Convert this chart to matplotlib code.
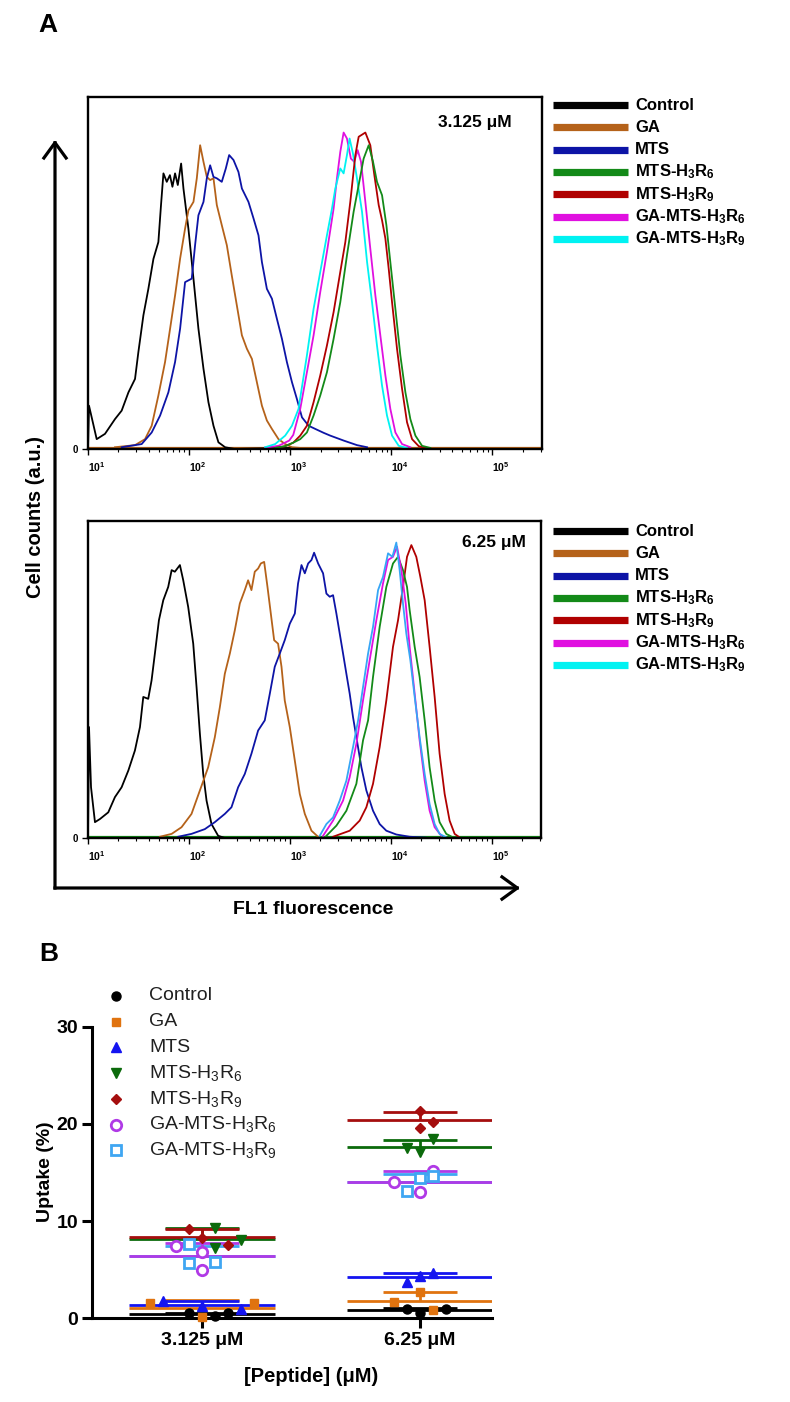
import numpy as np
import matplotlib.pyplot as plt
from matplotlib.lines import Line2D
from matplotlib.patches import FancyArrowPatch
from matplotlib.ticker import FixedLocator, LogLocator, NullFormatter

plt.rcParams.update({'font.family': ['Liberation Sans', 'DejaVu Sans'],
                     'mathtext.fontset': 'custom',
                     'mathtext.rm': 'Liberation Sans',
                     'mathtext.bf': 'Liberation Sans:bold',
                     'mathtext.it': 'Liberation Sans:italic',
                     'mathtext.default': 'regular'})

W, H = 790, 1402

# ---------------- data: panel A, histograms (log10 of FL1, counts in % of max) ----------------
top_logx_control = [1.0, 1.01, 1.086, 1.168, 1.267, 1.333, 1.40, 1.465, 1.498, 1.548, 1.597, 1.647, 1.696,
                    1.722, 1.746, 1.779, 1.81, 1.835, 1.861, 1.888, 1.921, 1.944, 1.993, 2.043, 2.092, 2.142,
                    2.191, 2.241, 2.29, 2.356, 2.45, 3.0, 3.1]
top_y_control = [0, 12.3, 2.8, 4.3, 8.5, 10.9, 16.1, 19.9, 27.5, 38, 45.5, 54, 58.8, 69.3, 78.3, 75.9, 77.8,
                 74.5, 78.3, 75, 81.1, 74, 62.6, 48.4, 34.2, 22.8, 13.3, 6.6, 1.9, 0.5, 0, 0.3, 0]
top_logx_ga = [1.267, 1.465, 1.564, 1.63, 1.696, 1.762, 1.812, 1.861, 1.911, 1.96, 1.993, 2.043, 2.076, 2.109,
               2.142, 2.175, 2.208, 2.241, 2.274, 2.323, 2.373, 2.422, 2.472, 2.522, 2.571, 2.621, 2.67, 2.72,
               2.769, 2.819, 2.884, 2.95, 3.017, 3.1]
top_y_ga = [0.5, 1.1, 2.8, 6.6, 15.2, 24.7, 34.2, 43.6, 54.1, 62.6, 67.8, 70.2, 76.9, 86.3, 81.6, 77.3, 76.4,
            76.9, 69.3, 63.6, 57.9, 49.3, 40.8, 32.3, 28.5, 25.6, 19, 12.3, 8.1, 5.7, 2.8, 1.4, 0.5, 0.3]
top_logx_mts = [1.333, 1.531, 1.63, 1.713, 1.795, 1.861, 1.911, 1.96, 2.026, 2.059, 2.092, 2.142, 2.175,
                2.208, 2.241, 2.274, 2.323, 2.363, 2.396, 2.439, 2.488, 2.522, 2.587, 2.637, 2.686, 2.72,
                2.769, 2.819, 2.868, 2.918, 2.967, 3.017, 3.066, 3.116, 3.182, 3.248, 3.33, 3.396, 3.528,
                3.66, 3.76]
top_y_mts = [0.5, 1.4, 4.7, 9.5, 16.1, 24.7, 34.2, 47.4, 48.4, 57.9, 66.4, 70.2, 76.9, 80.6, 77.3, 76.9,
             75.9, 79.7, 83.5, 82.1, 78.7, 74, 70.2, 65.5, 60.7, 53.1, 45.5, 42.7, 37, 31.3, 24.7, 19, 14.2,
             9, 6.6, 5.7, 4.6, 3.8, 2.4, 1.1, 0.5]
top_logx_h3r6 = [2.85, 2.95, 3.03, 3.099, 3.165, 3.231, 3.297, 3.363, 3.429, 3.495, 3.561, 3.627, 3.677,
                 3.726, 3.776, 3.819, 3.858, 3.908, 3.951, 3.99, 4.04, 4.089, 4.139, 4.188, 4.238, 4.304,
                 4.386]
top_y_h3r6 = [0.3, 0.8, 1.8, 2.8, 4.7, 9.5, 15.2, 21.8, 31.3, 41.7, 55, 67.4, 75, 82.5, 86.3, 81.6, 75.9,
              72.1, 63.6, 53.1, 39.8, 26.6, 16.1, 8.5, 3.8, 0.9, 0.3]
top_logx_h3r9 = [2.85, 2.95, 3.03, 3.099, 3.165, 3.231, 3.297, 3.363, 3.429, 3.495, 3.545, 3.594, 3.644,
                 3.677, 3.743, 3.792, 3.832, 3.875, 3.908, 3.941, 3.974, 4.007, 4.056, 4.106, 4.155, 4.205,
                 4.271, 4.35]
top_y_h3r9 = [0.3, 0.8, 1.8, 3.8, 6.6, 13.3, 20.9, 29.4, 38.9, 50.3, 58.8, 70.2, 83.5, 88.7, 89.9, 86.3,
              77.8, 69.3, 65, 59.8, 51.2, 41.7, 28.5, 17.1, 7.6, 2.8, 0.8, 0.2]
top_logx_ga_h3r6 = [2.752, 2.884, 2.99, 3.03, 3.099, 3.165, 3.231, 3.297, 3.363, 3.429, 3.462, 3.495, 3.528,
                    3.561, 3.6, 3.633, 3.667, 3.7, 3.743, 3.792, 3.842, 3.891, 3.941, 3.99, 4.04, 4.106,
                    4.188]
top_y_ga_h3r6 = [0.4, 0.9, 2.4, 4.0, 11.4, 21.8, 32.3, 44.6, 56, 68.3, 76.9, 84.4, 89.9, 88.2, 82.5, 81.6,
                 84.9, 81.6, 70.2, 56.9, 43.6, 32.3, 20.9, 11.4, 4.7, 1.4, 0.5]
top_logx_ga_h3r9 = [2.752, 2.851, 2.95, 3.017, 3.082, 3.165, 3.231, 3.297, 3.363, 3.413, 3.446, 3.495,
                    3.528, 3.561, 3.587, 3.62, 3.66, 3.71, 3.76, 3.809, 3.858, 3.908, 3.957, 4.007, 4.073,
                    4.155]
top_y_ga_h3r9 = [0.5, 1.4, 3.8, 6.6, 11.4, 26.6, 39.8, 50.3, 60.7, 68.3, 74, 79.7, 78.3, 83.5, 88.2, 84,
                 76.9, 67.4, 53.1, 41.7, 29.4, 18, 9.5, 3.8, 0.9, 0.3]

bot_logx_control = [1.0, 1.01, 1.03, 1.069, 1.119, 1.201, 1.267, 1.333, 1.4, 1.465, 1.515, 1.548, 1.597,
                    1.63, 1.663, 1.703, 1.746, 1.795, 1.829, 1.861, 1.911, 1.944, 1.993, 2.043, 2.076, 2.109,
                    2.142, 2.175, 2.224, 2.29, 2.356]
bot_y_control = [0, 35, 16, 5, 6, 8.1, 12.9, 16, 21.3, 27.6, 35, 44.5, 43.9, 49.7, 58.2, 68.7, 75, 79.2,
                 84.5, 84, 86.1, 81.3, 72.9, 61.3, 47.6, 32.9, 20.2, 11.8, 4.4, 0.7, 0]
bot_logx_ga = [1.713, 1.829, 1.927, 2.026, 2.109, 2.191, 2.257, 2.307, 2.356, 2.406, 2.455, 2.505, 2.554,
               2.587, 2.62, 2.653, 2.686, 2.713, 2.746, 2.779, 2.812, 2.845, 2.884, 2.918, 2.95, 3.0, 3.05,
               3.099, 3.149, 3.215, 3.28]
bot_y_ga = [0.4, 1.3, 3.4, 7.6, 15, 22.3, 31.8, 41.3, 51.8, 58.2, 65.5, 74, 78.2, 81.3, 78.2, 84, 85, 86.6,
            87.1, 79.2, 70.8, 62.4, 61.3, 54, 43.4, 35, 24.4, 13.9, 7.6, 2.3, 0.4]
bot_logx_mts = [1.894, 2.026, 2.158, 2.257, 2.356, 2.422, 2.488, 2.554, 2.62, 2.686, 2.752, 2.802, 2.851,
                2.901, 2.95, 3.0, 3.05, 3.082, 3.116, 3.149, 3.182, 3.215, 3.241, 3.281, 3.33, 3.363, 3.396,
                3.429, 3.462, 3.495, 3.528, 3.561, 3.594, 3.627, 3.66, 3.71, 3.759, 3.825, 3.891, 3.957,
                4.056, 4.188, 4.35]
bot_y_mts = [0.4, 1.3, 2.8, 5, 7.6, 9.7, 16, 20.2, 26.6, 33.9, 37.1, 45.5, 54, 58.2, 62.4, 67.6, 70.8, 80.3,
             86.1, 83.5, 86.6, 87.7, 90, 86.6, 83.5, 77.1, 76.1, 76.6, 70.8, 64.5, 58.2, 51.8, 45.5, 38.1,
             31.8, 22.3, 15, 8.6, 4.4, 2.3, 1.1, 0.4, 0.1]
bot_logx_h3r6 = [3.363, 3.462, 3.561, 3.66, 3.726, 3.776, 3.825, 3.891, 3.957, 4.023, 4.073, 4.122, 4.162,
                 4.188, 4.238, 4.287, 4.337, 4.386, 4.436, 4.485, 4.551, 4.617]
bot_y_h3r6 = [0.7, 3.9, 8.6, 17.1, 30.8, 37.1, 50.8, 66.6, 79.2, 86.6, 88.7, 84.5, 79.2, 71.9, 60.3, 50.8,
              37.1, 22.3, 11.8, 5, 1.3, 0.2]
bot_logx_h3r9 = [3.429, 3.594, 3.693, 3.759, 3.825, 3.891, 3.957, 4.023, 4.073, 4.122, 4.162, 4.205, 4.254,
                 4.294, 4.337, 4.386, 4.436, 4.485, 4.535, 4.584, 4.634, 4.683]
bot_y_h3r9 = [0.4, 2.3, 5.5, 9.7, 17.1, 28.7, 43.4, 60.3, 68.7, 79.2, 88.7, 92.4, 88.7, 82.4, 75, 60.3, 44.5,
              26.6, 13.9, 5.5, 1.3, 0.2]
bot_logx_ga_h3r6 = [3.33, 3.429, 3.528, 3.594, 3.66, 3.726, 3.792, 3.858, 3.924, 3.974, 4.023, 4.063, 4.106,
                    4.149, 4.188, 4.238, 4.287, 4.337, 4.386, 4.436, 4.502]
bot_y_ga_h3r6 = [0.7, 5.5, 11.8, 19.2, 29.7, 43.4, 56.1, 68.7, 80.3, 87.7, 88.7, 91.9, 84.5, 74, 60.3, 45.5,
                 30.8, 18.1, 8.6, 3.4, 0.7]
bot_logx_ga_h3r9 = [3.297, 3.363, 3.429, 3.495, 3.561, 3.627, 3.677, 3.726, 3.776, 3.825, 3.875, 3.924,
                    3.974, 4.017, 4.056, 4.089, 4.122, 4.155, 4.195, 4.238, 4.287, 4.337, 4.386, 4.436,
                    4.485, 4.551]
bot_y_ga_h3r9 = [0.7, 4.4, 6.5, 11.8, 18.1, 28.7, 37.1, 47.6, 58.2, 66.6, 78.2, 82.4, 89.8, 88.7, 93.2, 84.5,
                 74, 64.5, 56.1, 44.5, 31.8, 20.2, 10.7, 4.4, 1.3, 0.2]

hist_labels = ['Control', 'GA', 'MTS', r'MTS-H$_\mathbf{3}$R$_\mathbf{6}$', r'MTS-H$_\mathbf{3}$R$_\mathbf{9}$',
               r'GA-MTS-H$_\mathbf{3}$R$_\mathbf{6}$', r'GA-MTS-H$_\mathbf{3}$R$_\mathbf{9}$']
hist_colors = ['#000000', '#B5621A', '#0D14A6', '#138A18', '#B00000', '#E010E0', '#00F2F2']
conc_labels = ['3.125 μM', '6.25 μM']

# ---------------- data: panel B, uptake (%) replicates ----------------
b_categories = ['3.125 μM', '6.25 μM']
b_labels = ['Control', 'GA', 'MTS', r'MTS-H$_3$R$_6$', r'MTS-H$_3$R$_9$', r'GA-MTS-H$_3$R$_6$',
            r'GA-MTS-H$_3$R$_9$']
uptake_control = [[0.5, 0.27, 0.5], [0.96, 0.5, 0.96]]
uptake_ga = [[1.54, 0.17, 1.54], [1.7, 2.74, 0.86]]
uptake_mts = [[1.75, 1.3, 0.95], [3.77, 4.35, 4.63]]
uptake_h3r6 = [[9.3, 7.2, 8.1], [17.5, 17.1, 18.4]]
uptake_h3r9 = [[9.2, 8.3, 7.5], [21.3, 20.2, 19.6]]
uptake_ga_h3r6 = [[7.44, 6.86, 4.97], [14.05, 13.0, 15.15]]
uptake_ga_h3r9 = [[5.7, 5.8, 7.6], [13.1, 14.4, 14.6]]
# horizontal scatter slot of each replicate (Prism column scatter)
slots_control = [[-1, 1, 2], [-1, 0, 2]]
slots_ga = [[-4, 0, 4], [-2, 0, 1]]
slots_mts = [[-3, 0, 3], [-1, 0, 1]]
slots_h3r6 = [[1, 1, 3], [-1, 0, 1]]
slots_h3r9 = [[-1, 0, 2], [0, 1, 0]]
slots_ga_h3r6 = [[-2, 0, 0], [-2, 0, 1]]
slots_ga_h3r9 = [[-1, 1, -1], [-1, 0, 1]]
b_colors = ['#000000', '#E0730F', '#1414F0', '#0B6A0B', '#A50E0E', '#B03AE6', '#3FA6F2']
b_markers = ['o', 's', '^', 'v', 'D', 'o', 's']
b_open = [False, False, False, False, False, True, True]


def fx(px):
    return px / W


def fy(py):
    return 1 - py / H


fig = plt.figure(figsize=(W / 100, H / 100), dpi=100)

# ---------------- panel A ----------------
top_curves = [(top_logx_control, top_y_control), (top_logx_ga, top_y_ga), (top_logx_mts, top_y_mts),
              (top_logx_h3r6, top_y_h3r6), (top_logx_h3r9, top_y_h3r9),
              (top_logx_ga_h3r6, top_y_ga_h3r6), (top_logx_ga_h3r9, top_y_ga_h3r9)]
bot_curves = [(bot_logx_control, bot_y_control), (bot_logx_ga, bot_y_ga), (bot_logx_mts, bot_y_mts),
              (bot_logx_h3r6, bot_y_h3r6), (bot_logx_h3r9, bot_y_h3r9),
              (bot_logx_ga_h3r6, bot_y_ga_h3r6), (bot_logx_ga_h3r9, bot_y_ga_h3r9)]

panels = [
    dict(rect=[fx(88), fy(449), (542 - 88) / W, (449 - 97) / H], curves=top_curves,
         order=[0, 1, 2, 5, 6, 4, 3], base=1, leg_top=105, conc=(512, 122),
         colors=hist_colors),
    dict(rect=[fx(88), fy(838), (541 - 88) / W, (838 - 521) / H], curves=bot_curves,
         order=[0, 1, 2, 4, 3, 5, 6], base=3, leg_top=531, conc=(526, 542),
         colors=hist_colors[:6] + ['#36A6F5']),
]

for k, p in enumerate(panels):
    ax = fig.add_axes(p['rect'])
    ax.set_xscale('log')
    ax.axhline(0.4, color=p['colors'][p['base']], lw=1.6, zorder=1)
    for i in p['order']:
        lx, yy = p['curves'][i]
        ax.plot(10 ** np.array(lx), yy, color=p['colors'][i], lw=1.3, zorder=2)
    ax.set_xlim(10, 10 ** 5.49)
    ax.set_ylim(0, 100)
    for s in ax.spines.values():
        s.set_linewidth(1.7)
    ax.xaxis.set_major_locator(FixedLocator([1e1, 1e2, 1e3, 1e4, 1e5]))
    ax.xaxis.set_minor_locator(LogLocator(base=10, subs=np.arange(2, 10)))
    ax.xaxis.set_minor_formatter(NullFormatter())
    ax.set_xticklabels([r'$\mathbf{10^{%d}}$' % e for e in range(1, 6)], fontsize=7.5, ha='left')
    ax.tick_params(axis='x', which='major', length=4, width=1, pad=4)
    ax.tick_params(axis='x', which='minor', length=2.5, width=0.8)
    ax.set_yticks([0])
    ax.set_yticklabels(['0'], fontsize=7, fontweight='bold')
    ax.tick_params(axis='y', length=4, width=1, pad=3)

    fig.text(fx(p['conc'][0]), fy(p['conc'][1]), conc_labels[k], ha='right', va='center',
             fontsize=12.5, fontweight='bold')
    for i, lab in enumerate(hist_labels):
        yrow = p['leg_top'] + i * 22.3
        fig.add_artist(Line2D([fx(553), fx(628)], [fy(yrow), fy(yrow)], transform=fig.transFigure,
                              color=hist_colors[i], lw=5.2, solid_capstyle='butt'))
        fig.text(fx(635), fy(yrow), lab, ha='left', va='center', fontsize=12, fontweight='bold')

# big axis arrows of panel A
for end in [(55, 140), (520, 888)]:
    fig.add_artist(FancyArrowPatch((fx(55), fy(888)), (fx(end[0]), fy(end[1])),
                                   transform=fig.transFigure, arrowstyle='->,head_length=0.55,head_width=0.4',
                                   mutation_scale=20, lw=2.3, color='black', shrinkA=0, shrinkB=0,
                                   capstyle='projecting'))
fig.text(fx(36), fy(517), 'Cell counts (a.u.)', rotation=90, ha='center', va='center',
         fontsize=14.5, fontweight='bold')
fig.text(fx(313), fy(910), 'FL1 fluorescence', ha='center', va='center', fontsize=14, fontweight='bold')
fig.text(fx(48), fy(25), 'A', ha='center', va='center', fontsize=19, fontweight='bold')
fig.text(fx(49), fy(954), 'B', ha='center', va='center', fontsize=19, fontweight='bold')

# ---------------- panel B ----------------
axB = fig.add_axes([fx(92), fy(1318.3), (492 - 92) / W, (1318.3 - 1026.7) / H])
cat_x = np.array([1, 2])
axB.set_xlim(1 - 110 / 218, 2 + 72 / 218)
axB.set_ylim(0, 30)
for s in ['top', 'right']:
    axB.spines[s].set_visible(False)
axB.spines['left'].set_linewidth(2.2)
axB.spines['bottom'].set_linewidth(2.2)
axB.set_yticks([0, 10, 20, 30])
axB.set_yticklabels(['0', '10', '20', '30'], fontsize=14, fontweight='bold')
axB.set_xticks(cat_x)
axB.set_xticklabels(b_categories, fontsize=14, fontweight='bold')
axB.tick_params(axis='both', length=7, width=2.2, pad=3)

uptakes = [uptake_control, uptake_ga, uptake_mts, uptake_h3r6, uptake_h3r9, uptake_ga_h3r6, uptake_ga_h3r9]
slots = [slots_control, slots_ga, slots_mts, slots_h3r6, slots_h3r9, slots_ga_h3r6, slots_ga_h3r9]

# mean + upper SD; GA-MTS-H3R9 drawn before GA-MTS-H3R6 so the purple mean stays on top
for g in [0, 1, 2, 3, 4, 6, 5]:
    for ci, cx in enumerate(cat_x):
        vals = np.array(uptakes[g][ci])
        m, sd = vals.mean(), vals.std(ddof=1)
        axB.hlines(m, cx - 0.335, cx + 0.335, color=b_colors[g], lw=2, zorder=2)
        axB.vlines(cx, m, m + sd, color=b_colors[g], lw=2, zorder=2)
        axB.hlines(m + sd, cx - 0.17, cx + 0.17, color=b_colors[g], lw=2, zorder=2)

for g in range(len(uptakes)):
    for ci, cx in enumerate(cat_x):
        xs = cx + np.array(slots[g][ci]) * 0.06
        if b_open[g]:
            axB.plot(xs, uptakes[g][ci], ls='none', marker=b_markers[g], ms=7.5, mfc='white',
                     mec=b_colors[g], mew=2, zorder=3, clip_on=False)
        else:
            axB.plot(xs, uptakes[g][ci], ls='none', marker=b_markers[g],
                     ms=5.5 if b_markers[g] in ('s', 'D') else 6.5, color=b_colors[g], zorder=3,
                     clip_on=False)

# legend of panel B
for g, lab in enumerate(b_labels):
    yrow = 996 + g * 25.7
    if b_open[g]:
        mk = dict(marker=b_markers[g], ms=7.5, mfc='white', mec=b_colors[g], mew=2)
    else:
        mk = dict(marker=b_markers[g], ms=5.5 if b_markers[g] in ('s', 'D') else 6.5, color=b_colors[g])
    fig.add_artist(Line2D([fx(116)], [fy(yrow)], transform=fig.transFigure, ls='none', **mk))
    fig.text(fx(149), fy(yrow), lab, ha='left', va='center', fontsize=14, color='#202020')

fig.text(fx(45), fy(1172), 'Uptake (%)', rotation=90, ha='center', va='center', fontsize=14,
         fontweight='bold')
fig.text(fx(311), fy(1377), '[Peptide] (μM)', ha='center', va='center', fontsize=14.5, fontweight='bold')

fig.savefig('out.png', dpi=100)
